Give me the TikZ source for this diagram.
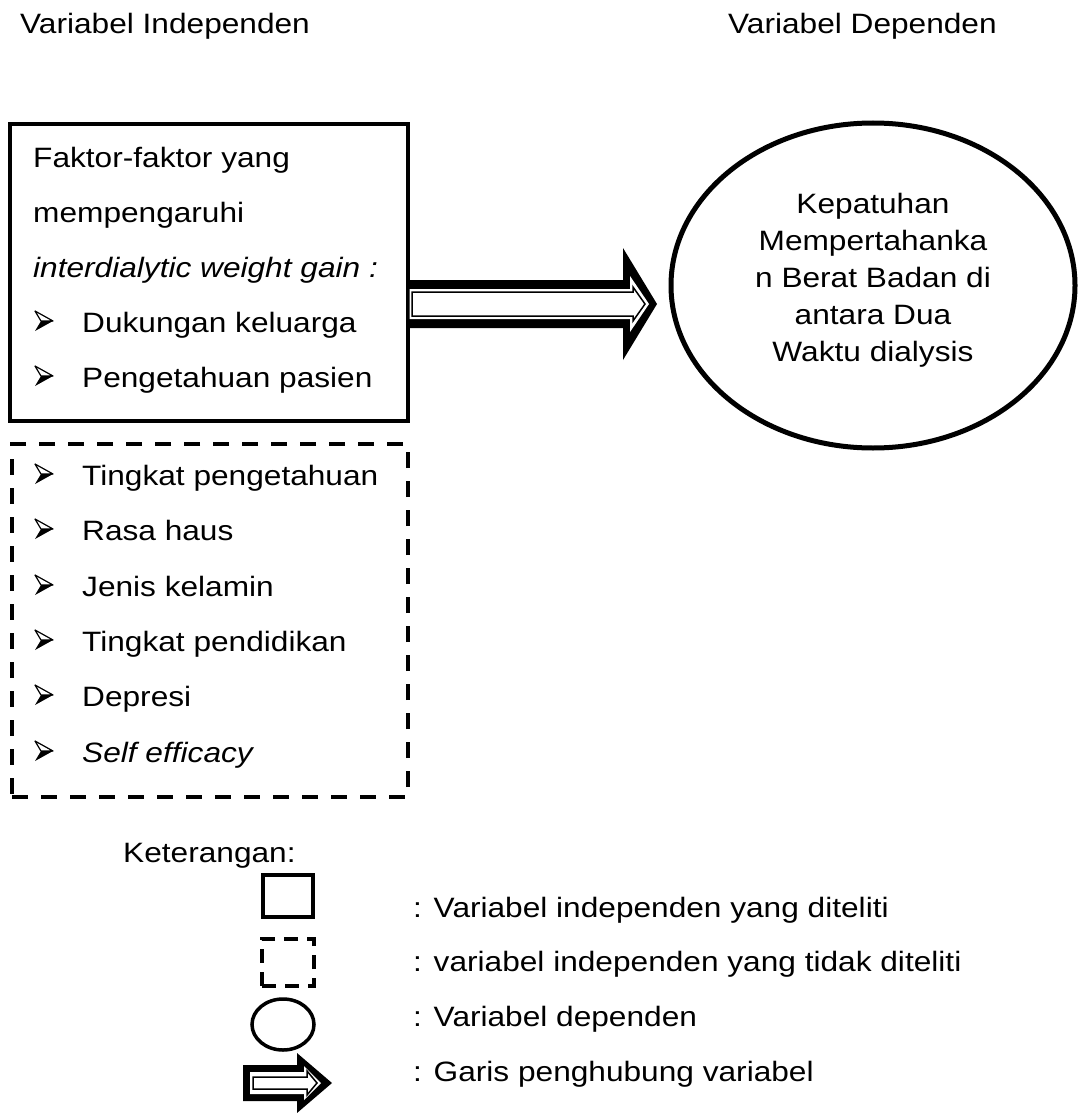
\documentclass[tikz,border=0pt]{standalone}
\usepackage{fontspec}
\setmainfont{Liberation Sans}[FakeStretch=1.13]
\usetikzlibrary{shapes.geometric}
\begin{document}
\begin{tikzpicture}[x=1pt,y=-1pt,
  txt/.style={anchor=base west, inner sep=0pt, font=\fontsize{28}{34}\selectfont},
  solidbox/.style={draw, rectangle, line width=3.5pt, inner sep=0pt},
  dashbox/.style={draw, rectangle, line width=4pt, inner sep=0pt, dash pattern=on 16pt off 13pt},
  depell/.style={draw, ellipse, line width=5pt, inner sep=0pt},
  arrowout/.style={fill=black},
  arrowwhite/.style={fill=white},
  arrowline/.style={draw=black, line width=1.5pt, line join=miter},
  bulletarrow/.pic={
    \fill[line join=round, line width=0.8pt] (6,-11) -- (18,-11) -- (0,-1) -- cycle;
    \draw[line width=1.2pt, line join=round] (0,-21) -- (18,-11) -- (6,-11) -- cycle;
  }
]
\useasboundingbox (0,0) rectangle (1077,1113);

% headings
\node[txt] (hind) at (20,34) {Variabel Independen};
\node[txt] (hdep) at (728,34) {Variabel Dependen};

% independent (studied) box
\node[solidbox, minimum width=398pt, minimum height=297pt] (box) at (209,272.5) {};
\node[txt] (b1) at (33,167) {Faktor-faktor yang};
\node[txt] (b2) at (33,222) {mempengaruhi};
\node[txt] (b3) at (33,277) {\itshape interdialytic weight gain :};
\pic at (35,332) {bulletarrow};
\node[txt] (b4) at (82,332) {Dukungan keluarga};
\pic at (35,387) {bulletarrow};
\node[txt] (b5) at (82,387) {Pengetahuan pasien};

% independent (not studied) box
\node[dashbox, minimum width=396pt, minimum height=353pt] (box2) at (210,620.5) {};
\foreach \t/\b [count=\i] in {Tingkat pengetahuan/485, Rasa haus/540, Jenis kelamin/596,
   Tingkat pendidikan/651, Depresi/706, {\itshape Self efficacy}/762}{
  \pic at (35,\b) {bulletarrow};
  \node[txt] (d\i) at (82,\b) {\t};
}

% dependent ellipse
\node[depell, minimum width=404pt, minimum height=325pt] (dep) at (873,285.5) {};
\node[align=center, anchor=north, inner sep=0pt, font=\fontsize{28}{37}\selectfont]
  (deptxt) at (873,193) {Kepatuhan\\Mempertahanka\\n Berat Badan di\\antara Dua\\Waktu dialysis};

% main block arrow (box -> ellipse)
\fill[arrowout] (407,280) -- (623,280) -- (623,248) -- (657,304) -- (623,360) -- (623,328) -- (407,328) -- cycle;
\fill[arrowwhite] (409.5,289) -- (630,289) -- (630,276) -- (649,304) -- (630,332) -- (630,319) -- (409.5,319) -- cycle;
\draw[arrowline] (412,292) -- (633,292) -- (633,287) -- (645,304) -- (633,321) -- (633,316) -- (412,316) -- cycle;

% legend
\node[txt] (ket) at (123,862) {Keterangan:};
\node[solidbox, line width=4pt, minimum width=50pt, minimum height=42pt] (leg1) at (288,896) {};
\node[dashbox, line width=3.5pt, dash pattern=on 14pt off 9pt, minimum width=52pt, minimum height=47pt] (leg2) at (288,962.5) {};
\node[depell, line width=3.5pt, minimum width=62pt, minimum height=51pt] (leg3) at (283,1024.5) {};
\fill[arrowout] (243,1065) -- (297,1065) -- (297,1053) -- (332,1083) -- (297,1113) -- (297,1101) -- (243,1101) -- cycle;
\fill[arrowwhite] (250,1072) -- (304,1072) -- (304,1066) -- (321,1083) -- (304,1100) -- (304,1094) -- (250,1094) -- cycle;
\draw[arrowline] (253,1077) -- (307,1077) -- (307,1071) -- (317,1083) -- (307,1095) -- (307,1089) -- (253,1089) -- cycle;

\node[txt] (l1) at (413,917) {: Variabel independen yang diteliti};
\node[txt] (l2) at (413,971) {: variabel independen yang tidak diteliti};
\node[txt] (l3) at (413,1026) {: Variabel dependen};
\node[txt] (l4) at (413,1081) {: Garis penghubung variabel};
\end{tikzpicture}
\end{document}
